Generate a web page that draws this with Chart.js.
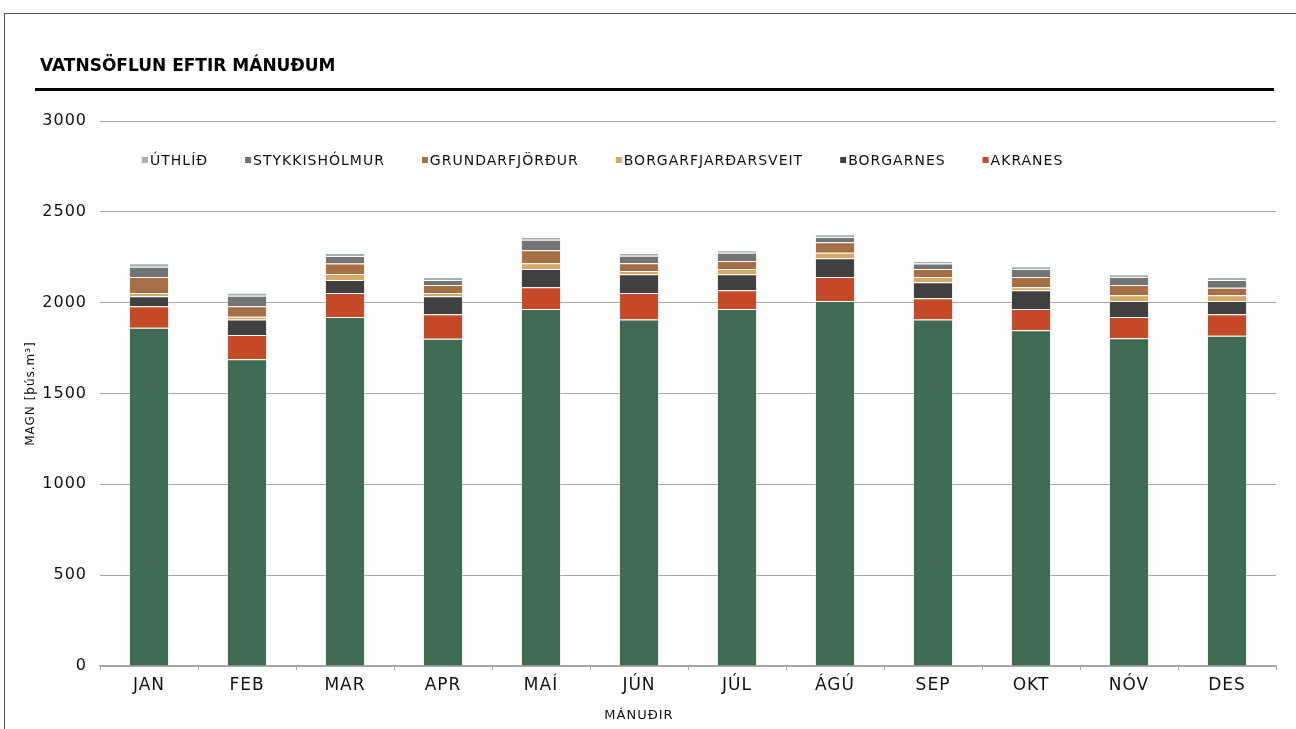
<!DOCTYPE html>
<html>
<head>
<meta charset="utf-8">
<script src="https://cdn.jsdelivr.net/npm/chart.js@4.4.1/dist/chart.umd.min.js"></script>
<style>
    html, body { margin: 0; padding: 0; background: #fff; }
    #vatn { display: block; }
</style>
</head>
<body>
<canvas id="vatn" width="1296" height="729"></canvas>
<script>
// gögn lesin af myndinni (þús. m3)
const manudir = ['JAN', 'FEB', 'MAR', 'APR', 'MAÍ', 'JÚN', 'JÚL', 'ÁGÚ', 'SEP', 'OKT', 'NÓV', 'DES'];
const grunnur = [1862, 1688, 1921, 1802, 1965, 1908, 1965, 2009, 1908, 1848, 1804, 1818];
const akranes = [118, 134, 132, 134, 120, 145, 103, 132, 116, 117, 117, 118];
const borgarnes = [56, 85, 72, 100, 100, 103, 88, 103, 88, 103, 88, 73];
const borgarfjardarsveit = [17, 16, 33, 17, 32, 18, 29, 31, 29, 17, 32, 32];
const grundarfjordur = [88, 57, 57, 44, 71, 43, 44, 57, 44, 56, 56, 41];
const stykkisholmur = [57, 58, 42, 28, 59, 41, 46, 29, 30, 44, 44, 43];
const uthlid = [19, 17, 16, 16, 14, 15, 13, 15, 14, 15, 15, 16];

const titill = 'VATNSÖFLUN EFTIR MÁNUÐUM';
const xTitill = 'MÁNUÐIR';
const yTitill = 'MAGN [þús.m³]';
const yAs = { min: 0, max: 3000, skref: 500 };

// rammi, fyrirsögn og skýringar
const skraut = {
    id: 'skraut',
    beforeDraw(chart) {
        const c = chart.ctx;
        c.save();
        c.fillStyle = '#fff';
        c.fillRect(0, 0, chart.width, chart.height);
        c.strokeStyle = '#555';
        c.lineWidth = 1;
        c.strokeRect(4.5, 13.5, chart.width + 20, chart.height + 20);
        c.fillStyle = '#000';
        c.font = 'bold 17px "DejaVu Sans"';
        c.textBaseline = 'middle';
        c.fillText(titill, 40, 67);
        c.strokeStyle = '#000';
        c.lineWidth = 3;
        c.beginPath();
        c.moveTo(35, 89.5);
        c.lineTo(1274, 89.5);
        c.stroke();
        c.restore();
        c.letterSpacing = '1px';
    },
    afterDraw(chart) {
        const c = chart.ctx;
        c.save();
        c.font = '14px "DejaVu Sans"';
        c.letterSpacing = '1px';
        c.textBaseline = 'middle';
        let x = 142;
        const y = 160;
        const ds = chart.data.datasets.slice().reverse().filter(d => d.label);
        ds.forEach(d => {
            c.fillStyle = d.backgroundColor;
            c.fillRect(x, y - 3, 6, 6);
            c.fillStyle = '#111';
            c.fillText(d.label, x + 8, y + 1);
            x += 8 + c.measureText(d.label).width + 37;
        });
        // heiti x-ássins
        c.font = '13px "DejaVu Sans"';
        c.textAlign = 'center';
        c.fillText(xTitill, 639, 716);
        c.restore();
        c.letterSpacing = '0px';
    }
};

const lina = 'rgba(255,255,255,0.35)';
const ctx = document.getElementById('vatn').getContext('2d');
const vatnChart = new Chart(ctx, {
    type: 'bar',
    data: {
        labels: manudir,
        datasets: [
            { label: '', data: grunnur, backgroundColor: '#3F6B52' },
            { label: 'AKRANES', data: akranes, backgroundColor: '#C54A27' },
            { label: 'BORGARNES', data: borgarnes, backgroundColor: '#404041' },
            { label: 'BORGARFJARÐARSVEIT', data: borgarfjardarsveit, backgroundColor: '#D6A862' },
            { label: 'GRUNDARFJÖRÐUR', data: grundarfjordur, backgroundColor: '#A66F45' },
            { label: 'STYKKISHÓLMUR', data: stykkisholmur, backgroundColor: '#737475' },
            { label: 'ÚTHLÍÐ', data: uthlid, backgroundColor: '#A3B2A6' }
        ].map(d => Object.assign(d, {
            borderColor: lina,
            borderWidth: 1,
            barPercentage: 0.41,
            categoryPercentage: 1
        }))
    },
    options: {
        responsive: false,
        animation: false,
        layout: { padding: { left: 0, right: 20, top: 121, bottom: 0 } },
        plugins: {
            legend: { display: false },
            tooltip: { enabled: false }
        },
        scales: {
            x: {
                stacked: true,
                afterFit: s => { s.height = 63; },
                border: { display: true, color: '#A6A6A6', width: 1.5 },
                grid: { drawOnChartArea: false, drawTicks: true, tickLength: 4, color: '#A6A6A6', offset: true },
                ticks: { color: '#111', font: { family: 'DejaVu Sans', size: 17 }, padding: 5 }
            },
            y: {
                stacked: true,
                min: yAs.min,
                max: yAs.max,
                afterFit: s => { s.width = 100; },
                border: { display: false },
                grid: { color: '#A6A6A6', lineWidth: 1, drawTicks: false },
                ticks: {
                    stepSize: yAs.skref,
                    color: '#111',
                    font: { family: 'DejaVu Sans', size: 16 },
                    padding: 13,
                    callback: v => String(v)
                },
                title: {
                    display: true,
                    text: yTitill,
                    color: '#111',
                    font: { family: 'DejaVu Sans', size: 12 },
                    padding: { top: 24, bottom: 0 }
                }
            }
        }
    },
    plugins: [skraut]
});
</script>
</body>
</html>
